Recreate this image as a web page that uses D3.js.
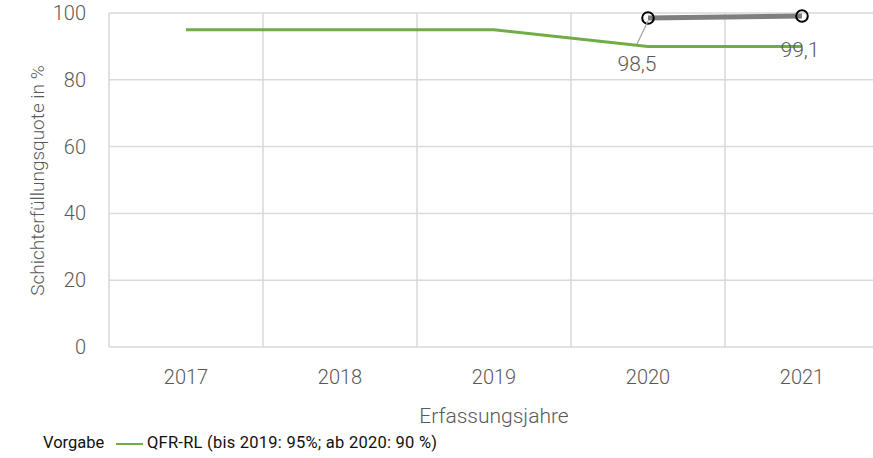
<!DOCTYPE html>
<html><head><meta charset="utf-8">
<script src="https://cdn.jsdelivr.net/npm/d3@7"></script>
<style>
body{margin:0;background:#fff;}
svg{display:block;font-family:"Roboto",sans-serif;font-weight:300;}
</style></head><body>
<svg id="chart" width="873" height="458"></svg>
<script>
const years = ["2017","2018","2019","2020","2021"];
const targetValues = [95,95,95,90,90];
const resultYears = ["2020","2021"];
const resultValues = [98.5,99.1];
const resultLabels = ["98,5","99,1"];
const yTicks = [0,20,40,60,80,100];
const yTitle = "Schichterfüllungsquote in %";
const xTitle = "Erfassungsjahre";
const legendTitle = "Vorgabe";
const legendLabel = "QFR-RL (bis 2019: 95%; ab 2020: 90 %)";

(function(){
const svg = d3.select("#chart");
const pl = 109, pt = 13, pb = 347, bandW = 154;
const x = d3.scaleBand().domain(years).range([pl, pl + bandW*years.length]).padding(0);
const y = d3.scaleLinear().domain([0,100]).range([pb, pt]);
const cx = d => x(d) + x.bandwidth()/2;
const grid = "#d9d9d9", txt = "#595959";

svg.append("g").selectAll("line").data(yTicks).join("line")
  .attr("x1", pl).attr("x2", 873).attr("y1", d=>y(d)).attr("y2", d=>y(d))
  .attr("stroke", grid).attr("stroke-width", 1.5);
svg.append("g").selectAll("line").data(years).join("line")
  .attr("x1", d=>x(d)).attr("x2", d=>x(d)).attr("y1", pt).attr("y2", pb)
  .attr("stroke", grid).attr("stroke-width", 1.5);

svg.append("g").selectAll("text").data(yTicks).join("text")
  .attr("x", 86).attr("y", d=>y(d)+7).attr("text-anchor","end")
  .attr("font-size", 20).attr("fill", txt).text(d=>d);
svg.append("g").selectAll("text").data(years).join("text")
  .attr("x", d=>cx(d)).attr("y", 384).attr("text-anchor","middle")
  .attr("font-size", 20).attr("fill", txt).text(d=>d);

svg.append("text").attr("transform","translate(44,180.5) rotate(-90)")
  .attr("text-anchor","middle").attr("font-size",19).attr("fill",txt).text(yTitle);
svg.append("text").attr("x", 494).attr("y", 423).attr("text-anchor","middle")
  .attr("font-size",21).attr("fill",txt).text(xTitle);

const line = d3.line().x(d=>cx(d[0])).y(d=>y(d[1]));
svg.append("path").datum(years.map((yr,i)=>[yr,targetValues[i]]))
  .attr("d", line).attr("fill","none").attr("stroke","#70ad47").attr("stroke-width",3);

const res = resultYears.map((yr,i)=>[yr,resultValues[i]]);
svg.append("path").datum(res).attr("d", line).attr("fill","none")
  .attr("stroke","#7f7f7f").attr("stroke-width",5);
svg.append("g").selectAll("circle").data(res).join("circle")
  .attr("cx", d=>cx(d[0])).attr("cy", d=>y(d[1])).attr("r",5.8)
  .attr("fill","none").attr("stroke","#000").attr("stroke-width",2);

const lblPos = [[637,70.5],[800,57]];
svg.append("line").attr("x1", 637).attr("y1", 44).attr("x2", cx("2020")).attr("y2", y(98.5)+3)
  .attr("stroke","#a6a6a6").attr("stroke-width",1.3);
svg.append("g").selectAll("text").data(resultLabels).join("text")
  .attr("x",(d,i)=>lblPos[i][0]).attr("y",(d,i)=>lblPos[i][1])
  .attr("text-anchor","middle").attr("font-size",21).attr("fill",txt).text(d=>d);

svg.append("text").attr("x",43).attr("y",448).attr("font-size",16.5).attr("font-weight",400).attr("fill","#111").text(legendTitle);
svg.append("line").attr("x1",116).attr("x2",143).attr("y1",444).attr("y2",444).attr("stroke","#70ad47").attr("stroke-width",2);
svg.append("text").attr("x",147).attr("y",448).attr("font-size",16.5).attr("font-weight",400).attr("fill","#111")
  .attr("textLength",290).attr("lengthAdjust","spacing").text(legendLabel);
})();
</script></body></html>
